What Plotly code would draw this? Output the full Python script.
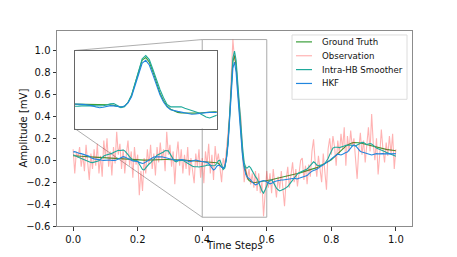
import numpy as np
import plotly.graph_objects as go

# ---------------- data ----------------
ground_truth = [
    0.040, 0.040, 0.039, 0.038, 0.037, 0.036, 0.035, 0.034, 0.033, 0.032, 0.030,
    0.029, 0.028, 0.027, 0.026, 0.024, 0.023, 0.022, 0.021, 0.020, 0.019,
    0.018, 0.017, 0.016, 0.015, 0.014, 0.013, 0.012, 0.011, 0.010, 0.009,
    0.008, 0.007, 0.006, 0.005, 0.004, 0.003, 0.002, 0.002, 0.001, 0.000,
    0.000, 0.000, 0.000, 0.001, 0.001, 0.002, 0.002, 0.003, 0.003, 0.004,
    0.004, 0.005, 0.005, 0.006, 0.006, 0.006, 0.007, 0.007, 0.007, 0.007,
    0.007, 0.006, 0.006, 0.005, 0.005, 0.004, 0.003, 0.002, 0.001, 0.000,
    -0.001, -0.002, -0.003, -0.004, -0.005, -0.006, -0.007, -0.008, -0.009, -0.010,
    -0.011, -0.012, -0.013, -0.014, -0.015, -0.016, -0.018, -0.020, -0.023, -0.028,
    -0.040, -0.060, -0.075,
    -0.060, 0.020, 0.170, 0.400, 0.680, 0.900, 0.955, 0.860, 0.660, 0.430,
    0.220, 0.060, -0.050, -0.120, -0.160, -0.185, -0.195, -0.200, -0.205,
    -0.203, -0.200, -0.198, -0.196, -0.194, -0.192, -0.190, -0.188,
    -0.185, -0.181, -0.178, -0.174, -0.171, -0.167, -0.164, -0.160, -0.157, -0.153,
    -0.150, -0.146, -0.143, -0.139, -0.136, -0.132, -0.129, -0.125, -0.122, -0.118,
    -0.114, -0.110, -0.106, -0.102, -0.098, -0.094, -0.090, -0.085, -0.080, -0.074,
    -0.068, -0.062, -0.055, -0.048, -0.040, -0.032, -0.024, -0.015, -0.006, 0.004,
    0.018, 0.033, 0.048, 0.063, 0.078, 0.092, 0.105, 0.117, 0.128, 0.138,
    0.146, 0.153, 0.158, 0.161, 0.162, 0.161, 0.159, 0.156, 0.152, 0.148,
    0.144, 0.140, 0.136, 0.132, 0.128, 0.124, 0.120, 0.117, 0.114, 0.111,
    0.108, 0.105, 0.102, 0.099, 0.096, 0.094, 0.092, 0.090, 0.088, 0.086,
]

observation = [
    0.10, -0.12, 0.08, 0.02, 0.12, -0.06, 0.05, -0.10, 0.14, 0.00,
    -0.18, 0.06, -0.08, 0.10, -0.05, 0.15, -0.12, 0.04, -0.15, 0.18,
    0.02, 0.20, -0.06, 0.08, -0.14, 0.12, -0.03, 0.26, 0.05, 0.15,
    -0.08, 0.10, -0.12, 0.06, 0.18, -0.05, 0.08, -0.16, 0.12, -0.04,
    0.05, -0.32, -0.10, -0.28, 0.02, -0.12, 0.10, -0.04, 0.14, -0.08,
    0.06, -0.14, 0.12, -0.02, 0.16, 0.00, 0.10, -0.10, 0.26, 0.05,
    0.14, -0.06, 0.08, -0.22, 0.04, 0.17, -0.05, 0.10, -0.12, 0.05,
    -0.08, 0.12, -0.14, 0.02, -0.10, -0.21, 0.06, -0.06, 0.10, -0.16,
    0.02, -0.21, 0.08, -0.04, 0.15, -0.12, 0.05, -0.18, 0.13, -0.02,
    0.06, -0.08, -0.20, 0.02, -0.05, 0.10, 0.30, 0.42, 0.78, 1.10,
    0.92, 0.88, 0.62, 0.50, 0.38, 0.05, -0.20, -0.05, -0.18, -0.08,
    -0.22, -0.12, -0.25, -0.10, -0.28, -0.12, -0.30, -0.20, -0.51, -0.30,
    -0.10, -0.25, -0.12, -0.30, -0.08, -0.22, -0.34, -0.15, -0.26, -0.10,
    -0.30, -0.42, -0.18, -0.06, -0.25, -0.12, -0.02, -0.20, -0.08, -0.24,
    -0.10, 0.00, 0.02, -0.18, -0.05, -0.22, -0.04, -0.15, 0.08, 0.19,
    -0.02, -0.15, 0.04, -0.10, -0.20, 0.06, -0.12, -0.27, 0.10, 0.20,
    0.05, 0.22, 0.12, -0.05, 0.18, 0.06, 0.24, 0.10, 0.30, -0.05,
    0.22, 0.08, 0.27, 0.12, 0.20, 0.02, -0.17, 0.10, 0.25, 0.05,
    0.18, -0.02, 0.14, 0.30, 0.08, 0.42, 0.15, 0.00, 0.20, -0.13,
    0.05, 0.28, 0.10, -0.02, 0.16, 0.04, 0.22, 0.06, 0.24, -0.08,
    0.10,
]

smoother = [
    0.050, 0.045, 0.040, 0.030, 0.022, 0.015, 0.010, 0.005, 0.000, -0.008, -0.015,
    -0.020, -0.022, -0.018, -0.020, -0.015, -0.005, 0.010, 0.025, 0.038, 0.045,
    0.048, 0.050, 0.055, 0.062, 0.070, 0.078, 0.085, 0.090, 0.088, 0.090,
    0.092, 0.085, 0.070, 0.050, 0.030, 0.010, 0.000, -0.002, 0.000, -0.010,
    -0.035, -0.065, -0.085, -0.088, -0.070, -0.050, -0.035, -0.025, -0.010, 0.005,
    0.025, 0.045, 0.052, 0.060, 0.065, 0.075, 0.088, 0.090, 0.085, 0.060,
    0.030, 0.010, -0.010, -0.015, -0.005, 0.000, -0.002, 0.000, -0.010, -0.020,
    -0.030, -0.040, -0.045, -0.055, -0.060, -0.058, -0.060, -0.062, -0.060, -0.058,
    -0.055, -0.050, -0.045, -0.042, -0.045, -0.050, -0.052, -0.048, -0.030, -0.005,
    0.000, -0.040, -0.085,
    -0.070, 0.020, 0.170, 0.410, 0.700, 0.930, 0.995, 0.910, 0.710, 0.490,
    0.290, 0.120, -0.020, -0.070, -0.070, -0.055, -0.070, -0.100, -0.120,
    -0.150, -0.170, -0.200, -0.240, -0.280, -0.300, -0.270, -0.230,
    -0.200, -0.185, -0.180, -0.200, -0.230, -0.255, -0.270, -0.280, -0.275, -0.270,
    -0.260, -0.250, -0.240, -0.220, -0.200, -0.180, -0.160, -0.140, -0.125, -0.115,
    -0.108, -0.105, -0.100, -0.090, -0.080, -0.065, -0.050, -0.030, -0.015, -0.025,
    -0.045, -0.048, -0.045, -0.045, -0.042, -0.030, -0.010, 0.015, 0.050, 0.090,
    0.110, 0.118, 0.120, 0.118, 0.115, 0.118, 0.125, 0.130, 0.135, 0.138,
    0.140, 0.138, 0.135, 0.132, 0.130, 0.138, 0.148, 0.158, 0.162, 0.160,
    0.150, 0.142, 0.148, 0.152, 0.148, 0.135, 0.120, 0.110, 0.105, 0.100,
    0.095, 0.088, 0.080, 0.072, 0.065, 0.060, 0.055, 0.048, 0.042, 0.036,
]

hkf = [
    0.075, 0.078, 0.072, 0.065, 0.062, 0.060, 0.055, 0.052, 0.050, 0.045, 0.035,
    0.022, 0.015, 0.012, 0.010, 0.006, 0.004, 0.002, 0.000, -0.002, 0.000,
    0.003, 0.005, 0.002, -0.002, -0.004, -0.002, 0.004, 0.012, 0.022, 0.030,
    0.032, 0.028, 0.020, 0.010, 0.002, -0.004, -0.008, -0.010, -0.008, -0.012,
    -0.020, -0.028, -0.030, -0.025, -0.015, -0.005, 0.008, 0.018, 0.025, 0.030,
    0.032, 0.030, 0.028, 0.030, 0.032, 0.028, 0.022, 0.020, 0.018, 0.015,
    0.010, 0.004, 0.000, -0.002, 0.000, 0.004, 0.006, 0.004, 0.002, 0.000,
    -0.008, -0.015, -0.012, -0.005, 0.000, 0.002, -0.002, -0.008, -0.010, -0.012,
    -0.015, -0.018, -0.020, -0.030, -0.050, -0.075, -0.090, -0.080, -0.055, -0.045,
    -0.050, -0.065, -0.072,
    -0.055, 0.010, 0.140, 0.360, 0.620, 0.840, 0.895, 0.800, 0.600, 0.380,
    0.180, 0.030, -0.070, -0.130, -0.155, -0.165, -0.180, -0.200, -0.215,
    -0.225, -0.220, -0.205, -0.195, -0.190, -0.185, -0.190, -0.200,
    -0.210, -0.215, -0.210, -0.200, -0.195, -0.190, -0.185, -0.182, -0.180, -0.180,
    -0.178, -0.175, -0.172, -0.170, -0.168, -0.165, -0.165, -0.168, -0.170, -0.165,
    -0.160, -0.155, -0.150, -0.148, -0.140, -0.125, -0.110, -0.100, -0.095, -0.090,
    -0.082, -0.072, -0.062, -0.058, -0.050, -0.040, -0.028, -0.015, -0.002, 0.012,
    0.025, 0.035, 0.045, 0.055, 0.050, 0.048, 0.055, 0.065, 0.070, 0.075,
    0.090, 0.110, 0.130, 0.140, 0.132, 0.115, 0.095, 0.080, 0.075, 0.070,
    0.065, 0.058, 0.052, 0.050, 0.048, 0.052, 0.058, 0.060, 0.058, 0.060,
    0.062, 0.060, 0.058, 0.060, 0.062, 0.060, 0.058, 0.060, 0.062, 0.060,
]

x_ticks = [0.0, 0.2, 0.4, 0.6, 0.8, 1.0]
y_ticks = [-0.6, -0.4, -0.2, 0.0, 0.2, 0.4, 0.6, 0.8, 1.0]

series_names = ["Ground Truth", "Observation", "Intra-HB Smoother", "HKF"]
series_values = [ground_truth, observation, smoother, hkf]
series_colors = ["#3a9e3a", "rgba(255,0,0,0.3)", "#1fa99b", "#2186de"]
in_inset = [True, False, True, True]

# ---------------- figure ----------------
FONT = "DejaVu Sans"
xr = [-0.05, 1.05]
yr = [-0.6, 1.178]
zoom_x = [0.4, 0.6]
zoom_y = [-0.52, 1.1]
inset_xd = [0.05, 0.45]
inset_yd = [0.5, 0.9]

# page has an 8px body margin; plot area spans page px x 57..412, y 31..228
OFF = 8
W, H = 457 - OFF, 257 - OFF
PL, PR, PT, PB = 57, 412, 31, 228


def px2paper(px, py):
    return (px - PL) / (PR - PL), (PB - py) / (PB - PT)


fig = go.Figure()
for name, vals, col in zip(series_names, series_values, series_colors):
    t = np.linspace(0, 1, len(vals))
    fig.add_trace(go.Scatter(x=t, y=vals, mode="lines", name=name, showlegend=False,
                             line=dict(color=col, width=1.1)))
for name, vals, col, ins in zip(series_names, series_values, series_colors, in_inset):
    if not ins:
        continue
    t = np.linspace(0, 1, len(vals))
    fig.add_trace(go.Scatter(x=t, y=vals, mode="lines", name=name, showlegend=False,
                             xaxis="x2", yaxis="y2",
                             line=dict(color=col, width=1.1)))

axis_common = dict(showgrid=False, zeroline=False, showline=True, mirror=True,
                   linecolor="#8c8c8c", linewidth=1, ticks="outside", ticklen=3.5,
                   tickwidth=0.8, tickcolor="#333",
                   tickfont=dict(family=FONT, size=10, color="#111"))

fig.update_layout(
    width=W, height=H,
    margin=dict(l=PL - OFF, r=W - (PR - OFF), t=PT - OFF, b=H - (PB - OFF)),
    paper_bgcolor="white", plot_bgcolor="white",
    font=dict(family=FONT, size=10, color="#111"),
    xaxis=dict(range=xr, tickvals=x_ticks, ticktext=[f"{v:.1f}" for v in x_ticks],
               **axis_common),
    yaxis=dict(range=yr, tickvals=y_ticks,
               ticktext=[("\u2212" if v < 0 else "") + f"{abs(v):.1f}" for v in y_ticks],
               **axis_common),
    xaxis2=dict(domain=inset_xd, anchor="y2", range=zoom_x, showticklabels=False,
                ticks="", showgrid=False, zeroline=False, showline=True, mirror=True,
                linecolor="#666", linewidth=1),
    yaxis2=dict(domain=inset_yd, anchor="x2", range=zoom_y, showticklabels=False,
                ticks="", showgrid=False, zeroline=False, showline=True, mirror=True,
                linecolor="#666", linewidth=1),
    showlegend=False,
)

# inset corners in main data coordinates
ix0 = xr[0] + inset_xd[0] * (xr[1] - xr[0])
iy0 = yr[0] + inset_yd[0] * (yr[1] - yr[0])
iy1 = yr[0] + inset_yd[1] * (yr[1] - yr[0])

fig.add_shape(type="rect", xref="x", yref="y", x0=zoom_x[0], x1=zoom_x[1],
              y0=zoom_y[0], y1=zoom_y[1], line=dict(color="#aaa", width=1), layer="below")
fig.add_shape(type="line", xref="x", yref="y", x0=zoom_x[0], y0=zoom_y[1], x1=ix0, y1=iy1,
              line=dict(color="#999", width=0.8), layer="below")
fig.add_shape(type="line", xref="x", yref="y", x0=zoom_x[0], y0=zoom_y[0], x1=ix0, y1=iy0,
              line=dict(color="#999", width=0.8), layer="below")
fig.add_shape(type="rect", xref="x2 domain", yref="y2 domain", x0=0, x1=1, y0=0, y1=1,
              fillcolor="white", line=dict(width=0), layer="below")

# ---------------- legend (drawn by hand to match the compact matplotlib look) ----
lx0, ly0 = px2paper(292, 35)
lx1, ly1 = px2paper(407, 100)
fig.add_shape(type="rect", xref="paper", yref="paper", x0=lx0, x1=lx1, y0=ly1, y1=ly0,
              fillcolor="rgba(255,255,255,0.85)", line=dict(color="#dcdcdc", width=1),
              layer="above")
for k, (name, col) in enumerate(zip(series_names, series_colors)):
    cy = 42 + k * 14
    a0, b0 = px2paper(296, cy)
    a1, _ = px2paper(312, cy)
    fig.add_shape(type="line", xref="paper", yref="paper", x0=a0, x1=a1, y0=b0, y1=b0,
                  line=dict(color=col, width=1.2), layer="above")
    tx, ty = px2paper(320, cy)
    fig.add_annotation(text=name, xref="paper", yref="paper", x=tx, y=ty,
                       showarrow=False, xanchor="left", yanchor="middle",
                       font=dict(family=FONT, size=8.6, color="#111"))

# ---------------- axis titles ----------------
ax_, ay_ = px2paper(23, 130)
fig.add_annotation(text="Amplitude [mV]", xref="paper", yref="paper",
                   x=ax_, y=0.5, textangle=-90, showarrow=False,
                   xanchor="center", yanchor="middle",
                   font=dict(family=FONT, size=10, color="#111"))
bx_, by_ = px2paper(234, 248)
fig.add_annotation(text="Time Steps", xref="paper", yref="paper",
                   x=bx_, y=by_, showarrow=False,
                   xanchor="center", yanchor="middle",
                   font=dict(family=FONT, size=10, color="#111"))

fig.write_html("out.html")
